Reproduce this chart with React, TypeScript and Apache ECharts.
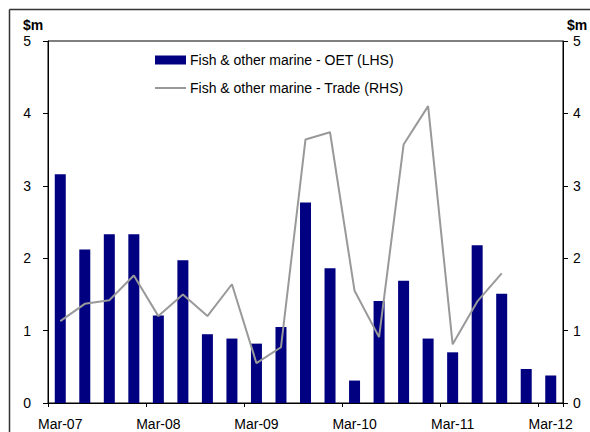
import React, { useEffect, useRef } from "react";
import * as echarts from "echarts";

const categories = [
  "Mar-07", "Jun-07", "Sep-07", "Dec-07",
  "Mar-08", "Jun-08", "Sep-08", "Dec-08",
  "Mar-09", "Jun-09", "Sep-09", "Dec-09",
  "Mar-10", "Jun-10", "Sep-10", "Dec-10",
  "Mar-11", "Jun-11", "Sep-11", "Dec-11",
  "Mar-12",
];

const oetValues = [
  3.16, 2.12, 2.33, 2.33,
  1.21, 1.97, 0.95, 0.89,
  0.82, 1.05, 2.77, 1.86,
  0.31, 1.41, 1.69, 0.89,
  0.70, 2.18, 1.51, 0.47,
  0.38,
];

const tradeValues: (number | null)[] = [
  1.13, 1.37, 1.42, 1.76,
  1.20, 1.50, 1.20, 1.64,
  0.55, 0.77, 3.64, 3.74,
  1.55, 0.91, 3.57, 4.10,
  0.81, 1.40, 1.79, null,
  null,
];

const oetName = "Fish & other marine - OET (LHS)";
const tradeName = "Fish & other marine - Trade (RHS)";
const unitLabel = "$m";

const FONT = "'Liberation Sans', Arial, sans-serif";

export default function App() {
  const ref = useRef<HTMLDivElement>(null);

  useEffect(() => {
    if (!ref.current) return;
    const chart = echarts.init(ref.current, null, { renderer: "svg" });
    const axisLabel = { color: "#000", fontFamily: FONT, fontSize: 14 };
    chart.setOption({
      animation: false,
      backgroundColor: "#fff",
      grid: {
        left: 48,
        top: 41,
        width: 515,
        height: 362,
        show: true,
        borderColor: "#000",
        borderWidth: 1,
        backgroundColor: "transparent",
      },
      legend: [
        {
          data: [oetName],
          left: 155,
          top: 53,
          padding: 0,
          itemWidth: 31,
          itemHeight: 9,
          itemGap: 0,
          textStyle: { color: "#000", fontFamily: FONT, fontSize: 14, padding: [0, 0, 0, -1] },
          selectedMode: false,
          icon: "rect",
        },
        {
          data: [tradeName],
          left: 155,
          top: 81,
          padding: 0,
          itemWidth: 31,
          itemHeight: 2,
          itemGap: 0,
          icon: "rect",
          itemStyle: { color: "#999999" },
          textStyle: { color: "#000", fontFamily: FONT, fontSize: 14, padding: [0, 0, 0, -1] },
          selectedMode: false,
        },
      ],
      xAxis: {
        type: "category",
        data: categories,
        boundaryGap: true,
        axisLine: { lineStyle: { color: "#000", width: 1 } },
        axisTick: { show: true, interval: 3, length: 4, alignWithLabel: false, lineStyle: { color: "#000" } },
        axisLabel: { ...axisLabel, interval: 3, margin: 14 },
        splitLine: { show: false },
      },
      yAxis: [
        {
          type: "value",
          min: 0,
          max: 5,
          interval: 1,
          position: "left",
          axisLine: { show: true, lineStyle: { color: "#000", width: 1 } },
          axisTick: { show: true, length: 5, lineStyle: { color: "#000" } },
          axisLabel: { ...axisLabel, margin: 17 },
          splitLine: { show: false },
        },
        {
          type: "value",
          min: 0,
          max: 5,
          interval: 1,
          position: "right",
          axisLine: { show: true, lineStyle: { color: "#000", width: 1 } },
          axisTick: { show: true, length: 5, lineStyle: { color: "#000" } },
          axisLabel: { ...axisLabel, margin: 10 },
          splitLine: { show: false },
        },
      ],
      series: [
        {
          name: oetName,
          type: "bar",
          yAxisIndex: 0,
          data: oetValues,
          barWidth: 11,
          itemStyle: { color: "#000080" },
        },
        {
          name: tradeName,
          type: "line",
          yAxisIndex: 1,
          data: tradeValues,
          symbol: "none",
          lineStyle: { color: "#999999", width: 2 },
          itemStyle: { color: "#999999" },
        },
      ],
      graphic: [
        {
          type: "line",
          shape: { x1: 9.5, y1: 9.5, x2: 590, y2: 9.5 },
          style: { stroke: "#333", lineWidth: 1.5 },
        },
        {
          type: "line",
          shape: { x1: 9.5, y1: 9.5, x2: 9.5, y2: 432 },
          style: { stroke: "#333", lineWidth: 1.5 },
        },
        {
          type: "text",
          left: 23,
          top: 18,
          style: { text: unitLabel, fill: "#000", font: `bold 14px ${FONT}` },
        },
        {
          type: "text",
          left: 567,
          top: 18,
          style: { text: unitLabel, fill: "#000", font: `bold 14px ${FONT}` },
        },
      ],
    });
    return () => chart.dispose();
  }, []);

  return (
    <div
      ref={ref}
      style={{ position: "fixed", left: 0, top: 0, width: 590, height: 432 }}
    />
  );
}
